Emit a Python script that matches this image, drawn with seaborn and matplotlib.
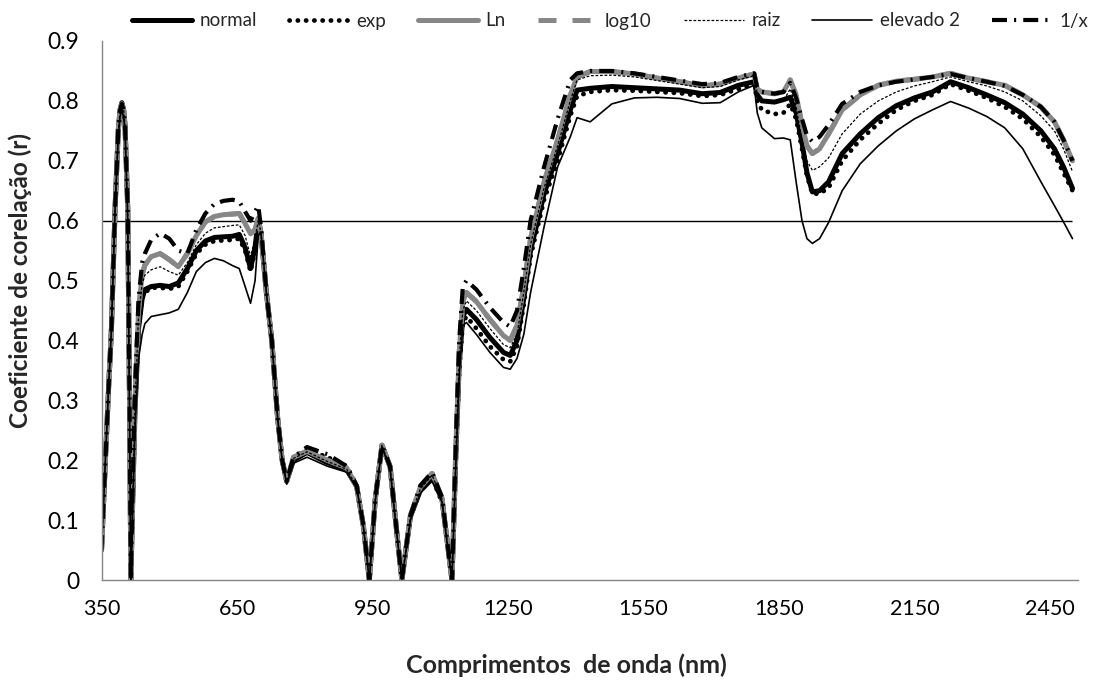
import matplotlib
matplotlib.use("Agg")
import matplotlib.pyplot as plt
import seaborn as sns
import numpy as np
import pandas as pd

# ---------------- data ----------------
wl = [350, 358, 365, 372, 380, 387, 391, 395, 399, 402, 408, 412, 415, 418, 424, 432, 440, 446,
      460, 480, 500, 520, 540, 560, 580, 600, 620, 640, 655, 668, 680, 690, 697, 703,
      715, 727, 740, 750, 760, 775, 805, 850, 893, 915, 930, 943, 956, 971, 989, 1004,
      1015, 1034, 1056, 1082, 1104, 1115, 1126, 1135, 1142, 1150, 1158, 1180, 1210, 1240,
      1255, 1270, 1285, 1300, 1330, 1360, 1388, 1403, 1432, 1480, 1530, 1580, 1630, 1680,
      1720, 1760, 1795, 1802, 1812, 1840, 1860, 1875, 1888, 1901, 1912, 1924, 1940, 1960,
      1990, 2030, 2070, 2110, 2150, 2190, 2230, 2270, 2310, 2350, 2390, 2430, 2460, 2480, 2500]

normal = [0.05, 0.19, 0.31, 0.42, 0.62, 0.75, 0.785, 0.797, 0.785, 0.76, 0.62, 0.30, 0.0, 0.10, 0.28, 0.42, 0.47, 0.485,
          0.49, 0.492, 0.49, 0.496, 0.52, 0.55, 0.566, 0.572, 0.573, 0.574, 0.577, 0.555, 0.52, 0.556, 0.60, 0.58,
          0.48, 0.40, 0.27, 0.20, 0.165, 0.20, 0.213, 0.196, 0.184, 0.156, 0.089, 0.0, 0.134, 0.225, 0.189, 0.078,
          0.0, 0.106, 0.150, 0.173, 0.134, 0.067, 0.0, 0.22, 0.36, 0.44, 0.452, 0.435, 0.405, 0.38,
          0.375, 0.40, 0.47, 0.55, 0.645, 0.712, 0.785, 0.818, 0.821, 0.824, 0.822, 0.82, 0.818, 0.812,
          0.814, 0.826, 0.832, 0.81, 0.80, 0.798, 0.802, 0.806, 0.78, 0.73, 0.68, 0.648, 0.65, 0.665,
          0.712, 0.745, 0.772, 0.792, 0.805, 0.815, 0.832, 0.822, 0.81, 0.797, 0.778, 0.75, 0.72, 0.69, 0.654]

exp_ = [0.05, 0.19, 0.31, 0.42, 0.62, 0.75, 0.784, 0.795, 0.784, 0.76, 0.62, 0.30, 0.0, 0.10, 0.28, 0.42, 0.47, 0.48,
        0.488, 0.488, 0.486, 0.49, 0.515, 0.545, 0.56, 0.566, 0.567, 0.568, 0.57, 0.55, 0.515, 0.55, 0.598, 0.58,
        0.48, 0.40, 0.27, 0.20, 0.165, 0.205, 0.218, 0.205, 0.19, 0.158, 0.09, 0.0, 0.134, 0.225, 0.189, 0.078,
        0.0, 0.106, 0.15, 0.17, 0.13, 0.065, 0.0, 0.21, 0.35, 0.43, 0.44, 0.42, 0.39, 0.368,
        0.365, 0.39, 0.46, 0.54, 0.635, 0.70, 0.775, 0.808, 0.815, 0.818, 0.817, 0.815, 0.813, 0.808,
        0.81, 0.82, 0.828, 0.80, 0.785, 0.778, 0.78, 0.795, 0.77, 0.72, 0.675, 0.645, 0.645, 0.655,
        0.70, 0.735, 0.762, 0.785, 0.80, 0.81, 0.828, 0.817, 0.805, 0.79, 0.77, 0.74, 0.71, 0.68, 0.65]

ln_ = [0.05, 0.19, 0.31, 0.42, 0.62, 0.75, 0.784, 0.795, 0.784, 0.76, 0.62, 0.30, 0.0, 0.11, 0.30, 0.45, 0.51, 0.526,
       0.54, 0.545, 0.535, 0.523, 0.545, 0.575, 0.598, 0.607, 0.61, 0.611, 0.612, 0.595, 0.578, 0.585, 0.604, 0.58,
       0.48, 0.40, 0.27, 0.20, 0.165, 0.205, 0.215, 0.20, 0.187, 0.156, 0.09, 0.0, 0.134, 0.225, 0.19, 0.078,
       0.0, 0.108, 0.155, 0.178, 0.136, 0.067, 0.0, 0.23, 0.38, 0.465, 0.48, 0.465, 0.435, 0.408,
       0.40, 0.425, 0.49, 0.57, 0.665, 0.735, 0.81, 0.84, 0.849, 0.849, 0.845, 0.838, 0.832, 0.825,
       0.828, 0.838, 0.845, 0.82, 0.815, 0.812, 0.815, 0.835, 0.81, 0.76, 0.725, 0.712, 0.72, 0.745,
       0.785, 0.81, 0.826, 0.833, 0.836, 0.84, 0.846, 0.838, 0.832, 0.826, 0.81, 0.79, 0.765, 0.735, 0.70]

log10_ = [0.05, 0.19, 0.31, 0.42, 0.62, 0.75, 0.784, 0.795, 0.784, 0.76, 0.62, 0.30, 0.0, 0.11, 0.30, 0.45, 0.51, 0.526,
          0.54, 0.545, 0.535, 0.523, 0.545, 0.575, 0.598, 0.607, 0.61, 0.611, 0.612, 0.595, 0.578, 0.585, 0.604, 0.58,
          0.48, 0.40, 0.27, 0.20, 0.165, 0.205, 0.215, 0.20, 0.187, 0.156, 0.09, 0.0, 0.134, 0.225, 0.19, 0.078,
          0.0, 0.108, 0.155, 0.178, 0.136, 0.067, 0.0, 0.23, 0.38, 0.465, 0.48, 0.465, 0.435, 0.408,
          0.40, 0.425, 0.49, 0.57, 0.665, 0.735, 0.81, 0.84, 0.849, 0.849, 0.845, 0.838, 0.832, 0.825,
          0.828, 0.838, 0.845, 0.82, 0.815, 0.812, 0.815, 0.835, 0.81, 0.76, 0.725, 0.712, 0.72, 0.745,
          0.785, 0.81, 0.826, 0.833, 0.836, 0.84, 0.846, 0.838, 0.832, 0.826, 0.81, 0.79, 0.765, 0.735, 0.70]

raiz = [0.05, 0.19, 0.31, 0.42, 0.62, 0.75, 0.785, 0.796, 0.785, 0.76, 0.62, 0.30, 0.0, 0.105, 0.29, 0.44, 0.495, 0.509,
        0.518, 0.523, 0.515, 0.509, 0.53, 0.56, 0.579, 0.588, 0.59, 0.592, 0.593, 0.575, 0.54, 0.57, 0.60, 0.58,
        0.48, 0.40, 0.27, 0.20, 0.165, 0.203, 0.214, 0.198, 0.185, 0.156, 0.089, 0.0, 0.134, 0.225, 0.189, 0.078,
        0.0, 0.107, 0.152, 0.175, 0.135, 0.067, 0.0, 0.225, 0.37, 0.45, 0.466, 0.45, 0.42, 0.393,
        0.388, 0.41, 0.48, 0.56, 0.655, 0.725, 0.80, 0.835, 0.842, 0.843, 0.84, 0.834, 0.828, 0.822,
        0.824, 0.835, 0.842, 0.812, 0.80, 0.796, 0.80, 0.82, 0.79, 0.735, 0.70, 0.684, 0.69, 0.705,
        0.745, 0.778, 0.80, 0.815, 0.825, 0.832, 0.84, 0.832, 0.825, 0.815, 0.80, 0.775, 0.75, 0.72, 0.682]

elevado2 = [0.05, 0.19, 0.31, 0.42, 0.62, 0.74, 0.773, 0.785, 0.772, 0.75, 0.60, 0.28, 0.0, 0.08, 0.25, 0.37, 0.41, 0.428,
            0.44, 0.443, 0.446, 0.452, 0.48, 0.515, 0.53, 0.537, 0.533, 0.525, 0.52, 0.49, 0.462, 0.50, 0.575, 0.58,
            0.48, 0.40, 0.27, 0.20, 0.16, 0.195, 0.205, 0.19, 0.18, 0.153, 0.088, 0.0, 0.13, 0.222, 0.185, 0.076,
            0.0, 0.10, 0.145, 0.165, 0.13, 0.063, 0.0, 0.20, 0.34, 0.425, 0.43, 0.41, 0.38, 0.355,
            0.352, 0.37, 0.41, 0.48, 0.59, 0.69, 0.74, 0.772, 0.765, 0.795, 0.805, 0.806, 0.804, 0.796,
            0.797, 0.815, 0.826, 0.78, 0.755, 0.737, 0.738, 0.735, 0.665, 0.60, 0.57, 0.562, 0.57, 0.597,
            0.65, 0.695, 0.725, 0.75, 0.77, 0.785, 0.799, 0.788, 0.774, 0.755, 0.72, 0.665, 0.625, 0.598, 0.57]

inv_x = [0.05, 0.19, 0.31, 0.42, 0.62, 0.75, 0.784, 0.795, 0.784, 0.76, 0.62, 0.30, 0.0, 0.12, 0.32, 0.47, 0.53, 0.545,
         0.568, 0.579, 0.57, 0.55, 0.545, 0.585, 0.612, 0.628, 0.633, 0.635, 0.632, 0.615, 0.60, 0.615, 0.625, 0.59,
         0.48, 0.40, 0.27, 0.20, 0.165, 0.205, 0.222, 0.21, 0.19, 0.158, 0.09, 0.0, 0.134, 0.225, 0.19, 0.078,
         0.0, 0.108, 0.158, 0.18, 0.138, 0.068, 0.0, 0.24, 0.40, 0.49, 0.50, 0.485, 0.455, 0.43,
         0.423, 0.45, 0.52, 0.60, 0.69, 0.77, 0.835, 0.846, 0.85, 0.85, 0.846, 0.84, 0.834, 0.828,
         0.83, 0.84, 0.846, 0.822, 0.815, 0.812, 0.815, 0.83, 0.805, 0.77, 0.742, 0.732, 0.74, 0.76,
         0.795, 0.815, 0.826, 0.832, 0.836, 0.84, 0.845, 0.838, 0.832, 0.825, 0.81, 0.79, 0.765, 0.735, 0.70]

series_names = ["normal", "exp", "Ln", "log10", "raiz", "elevado 2", "1/x"]
series_vals = [normal, exp_, ln_, log10_, raiz, elevado2, inv_x]
threshold = 0.6

x_ticks = [350, 650, 950, 1250, 1550, 1850, 2150, 2450]
y_ticks = [0, 0.1, 0.2, 0.3, 0.4, 0.5, 0.6, 0.7, 0.8, 0.9]

# ---------------- styling ----------------
sns.set_theme(style="white")
plt.rcParams['font.family'] = ['Lato', 'DejaVu Sans']

GRAY = "#878787"
styles = {
    "normal":    dict(color="black", linewidth=3.6, linestyle="-"),
    "exp":       dict(color="black", linewidth=3.4, linestyle=(0, (0.05, 1.7)), dash_capstyle="round"),
    "Ln":        dict(color=GRAY, linewidth=3.6, linestyle="-"),
    "log10":     dict(color=GRAY, linewidth=3.6, linestyle=(0, (3.6, 3.2))),
    "raiz":      dict(color="black", linewidth=0.9, linestyle=(0, (2.2, 1.4))),
    "elevado 2": dict(color="black", linewidth=1.2, linestyle="-"),
    "1/x":       dict(color="black", linewidth=3.0, linestyle=(0, (3.6, 1.7, 0.5, 1.7))),
}

fig = plt.figure(figsize=(10.94, 6.81), dpi=100)
ax = fig.add_axes([0.0928, 0.1483, 0.8925, 0.7915])

for name, vals in zip(series_names, series_vals):
    df = pd.DataFrame({"wl": wl, "r": vals})
    sns.lineplot(data=df, x="wl", y="r", ax=ax, label=name, **styles[name])

ax.hlines(threshold, wl[0], wl[-1], color="black", linewidth=1.0, zorder=1)

ax.set_xlim(350, 2512)
ax.set_ylim(0, 0.9)
ax.set_xticks(x_ticks)
ax.set_xticklabels([str(t) for t in x_ticks])
ax.set_yticks(y_ticks)
ax.set_yticklabels(["0"] + [f"{t:.1f}" for t in y_ticks[1:]])

for s in ["top", "right"]:
    ax.spines[s].set_visible(False)
for s in ["left", "bottom"]:
    ax.spines[s].set_color(GRAY)
    ax.spines[s].set_linewidth(1.0)
ax.tick_params(axis="both", which="major", direction="out", length=5, width=1,
               color=GRAY, labelcolor="black")
ax.tick_params(axis="y", pad=11, labelsize=16.5)
ax.tick_params(axis="x", pad=9, labelsize=15.5)

ax.set_xlabel("Comprimentos  de onda (nm)", fontsize=18, fontweight="bold")
ax.set_ylabel("Coeficiente de corelação (r)", fontsize=17.5, fontweight="bold")
# label positions measured on the reference (pixels -> axes fraction)
ax.xaxis.set_label_coords((566 - 101.5) / 976.5, -(653 - 580) / 539)
ax.yaxis.set_label_coords(-(101.5 - 32) / 976.5, (580 - 280) / 539)

ax.get_legend().remove()
handles, labels = ax.get_legend_handles_labels()
fig.legend(handles, labels, loc="center", bbox_to_anchor=(610 / 1094, 1 - 21 / 681),
           ncol=7, frameon=False, fontsize=13.5, handlelength=3.2, handletextpad=0.4,
           columnspacing=1.7)

fig.savefig("out.png", dpi=100)
